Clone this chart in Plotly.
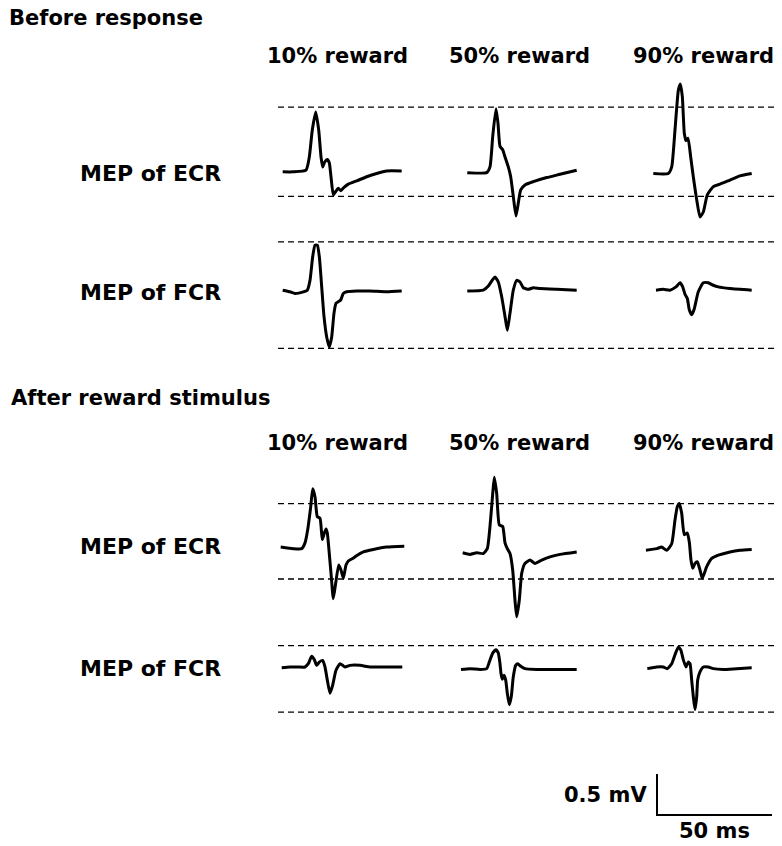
import plotly.graph_objects as go

# ---------------- data (ms, mV) ----------------
reward_labels = ["10% reward", "50% reward", "90% reward"]
row_labels = ["MEP of ECR", "MEP of FCR", "MEP of ECR", "MEP of FCR"]
section_titles = ["Before response", "After reward stimulus"]

# Before response - ECR
before_ecr_10_t = [1.17, 5.78, 11.3, 12.74, 14.04, 15.52, 16.83, 17.83, 18.57, 19.43, 20.57, 21.43, 22.17, 23.17, 24.22, 25.35, 26.39, 27.83, 29.7, 33.35, 37.7, 42.04, 46.39, 52.9]
before_ecr_10_v = [-0.01, -0.01, 0.01, 0.17, 0.50, 0.72, 0.50, 0.17, 0.05, 0.11, 0.14, 0.10, -0.07, -0.29, -0.25, -0.21, -0.24, -0.20, -0.16, -0.12, -0.07, -0.03, 0.00, 0.00]
before_ecr_50_t = [3.17, 11.61, 13.04, 14.22, 15.65, 16.52, 17.39, 18.57, 19.57, 21.0, 22.04, 23.17, 24.35, 25.35, 26.39, 28.26, 31.87, 37.7, 43.48, 50.74]
before_ecr_50_v = [-0.02, -0.02, 0.05, 0.42, 0.76, 0.58, 0.30, 0.26, 0.17, 0.05, -0.07, -0.31, -0.55, -0.39, -0.23, -0.17, -0.13, -0.08, -0.04, 0.01]
before_ecr_90_t = [3.61, 10.13, 11.61, 13.04, 14.48, 15.35, 16.22, 17.09, 17.83, 18.7, 19.87, 21.0, 22.48, 23.91, 25.35, 27.09, 29.7, 32.61, 36.96, 41.3, 46.39]
before_ecr_90_v = [-0.03, -0.03, 0.05, 0.50, 0.98, 1.06, 0.91, 0.46, 0.37, 0.40, 0.17, -0.07, -0.35, -0.56, -0.50, -0.29, -0.19, -0.16, -0.11, -0.06, -0.03]

# Before response - FCR
before_fcr_10_t = [1.17, 4.35, 6.52, 10.13, 11.87, 13.04, 14.22, 15.22, 16.22, 17.09, 18.13, 19.13, 20.3, 21.43, 22.48, 23.48, 24.35, 25.35, 26.39, 27.52, 29.0, 33.35, 39.13, 46.39, 52.91]
before_fcr_10_v = [0.01, -0.01, -0.03, -0.01, 0.01, 0.13, 0.42, 0.56, 0.56, 0.42, 0.05, -0.31, -0.56, -0.68, -0.56, -0.27, -0.15, -0.13, -0.11, -0.03, -0.01, 0.0, 0.0, -0.01, 0.0]
before_fcr_50_t = [3.17, 10.13, 12.3, 14.22, 15.22, 16.65, 18.13, 19.57, 20.57, 21.74, 23.17, 24.65, 26.09, 27.52, 29.7, 31.87, 34.78, 42.04, 50.74]
before_fcr_50_v = [0.0, 0.01, 0.06, 0.14, 0.17, 0.11, -0.07, -0.31, -0.48, -0.27, 0.01, 0.13, 0.11, 0.04, 0.02, 0.04, 0.03, 0.02, 0.01]
before_fcr_90_t = [4.78, 7.96, 10.87, 13.48, 15.22, 16.39, 17.39, 18.39, 19.26, 20.3, 21.3, 23.17, 25.35, 27.52, 29.7, 31.87, 36.96, 46.39]
before_fcr_90_v = [0.01, 0.02, 0.01, 0.05, 0.10, 0.05, -0.04, -0.09, -0.23, -0.29, -0.23, -0.01, 0.10, 0.10, 0.07, 0.05, 0.03, 0.01]

# After reward stimulus - ECR
after_ecr_10_t = [0.3, 5.78, 9.43, 10.87, 12.04, 13.35, 14.22, 15.22, 16.22, 17.39, 18.39, 19.26, 20.0, 20.57, 21.43, 22.3, 23.17, 24.22, 25.52, 26.52, 27.52, 28.7, 29.7, 31.61, 33.61, 36.22, 40.57, 46.39, 54.04]
after_ecr_10_v = [0.0, -0.02, -0.02, 0.05, 0.21, 0.49, 0.71, 0.61, 0.37, 0.35, 0.09, 0.17, 0.22, 0.17, -0.08, -0.36, -0.63, -0.44, -0.22, -0.28, -0.38, -0.22, -0.17, -0.14, -0.10, -0.06, -0.03, 0.0, 0.01]
after_ecr_50_t = [1.17, 4.35, 7.26, 10.13, 11.87, 13.04, 14.22, 14.91, 15.96, 17.09, 18.57, 19.57, 20.57, 21.74, 22.91, 23.91, 24.65, 25.78, 26.83, 28.26, 30.43, 32.61, 35.52, 39.13, 43.48, 50.74]
after_ecr_50_v = [-0.07, -0.09, -0.07, -0.08, -0.02, 0.25, 0.65, 0.85, 0.65, 0.27, 0.25, 0.05, -0.02, -0.08, -0.28, -0.65, -0.85, -0.65, -0.32, -0.20, -0.16, -0.20, -0.16, -0.12, -0.09, -0.06]
after_ecr_90_t = [0.43, 5.09, 7.26, 9.43, 11.61, 13.04, 14.04, 14.91, 15.96, 17.09, 18.39, 19.26, 20.0, 20.74, 21.74, 22.74, 23.91, 24.91, 26.83, 29.0, 31.87, 36.96, 41.3, 46.39]
after_ecr_90_v = [-0.04, -0.02, 0.0, -0.04, 0.04, 0.33, 0.49, 0.53, 0.41, 0.15, 0.17, 0.06, -0.16, -0.26, -0.20, -0.18, -0.28, -0.38, -0.24, -0.14, -0.10, -0.06, -0.04, -0.03]

# After reward stimulus - FCR
after_fcr_10_t = [0.74, 4.35, 7.96, 10.87, 12.3, 13.78, 14.91, 15.96, 17.09, 18.57, 19.57, 20.57, 21.74, 22.91, 24.35, 26.09, 27.26, 28.26, 30.43, 34.78, 39.13, 43.48, 47.83, 53.17]
after_fcr_10_v = [-0.01, 0.0, 0.0, 0.0, 0.04, 0.13, 0.09, 0.02, 0.06, 0.08, 0.0, -0.16, -0.32, -0.22, -0.04, 0.04, 0.02, 0.0, 0.02, 0.02, 0.0, 0.0, 0.0, 0.0]
after_fcr_50_t = [0.43, 4.35, 8.7, 11.61, 12.74, 14.22, 15.65, 16.65, 17.39, 17.83, 18.39, 19.13, 19.87, 20.57, 21.43, 22.3, 23.17, 24.22, 25.09, 26.39, 28.26, 33.35, 40.57, 50.74]
after_fcr_50_v = [-0.03, -0.02, -0.03, -0.02, 0.06, 0.17, 0.21, 0.17, 0.04, -0.08, -0.15, -0.10, -0.16, -0.32, -0.46, -0.36, -0.12, 0.02, 0.04, 0.01, -0.02, -0.03, -0.03, -0.03]
after_fcr_90_t = [1.0, 5.09, 7.96, 9.7, 11.61, 13.04, 14.48, 15.52, 16.65, 17.83, 18.83, 19.57, 20.3, 21.0, 21.74, 22.48, 22.91, 23.91, 25.35, 27.52, 29.7, 34.04, 39.87, 46.39]
after_fcr_90_v = [-0.02, 0.0, 0.0, -0.02, 0.04, 0.15, 0.24, 0.21, 0.09, 0.0, 0.06, 0.04, -0.16, -0.36, -0.52, -0.36, -0.16, -0.06, 0.0, 0.0, -0.02, -0.03, -0.02, -0.01]

# dashed reference levels per row (mV): [upper, lower]
ref_levels = [[0.78, -0.31], [0.60, -0.70], [0.53, -0.39], [0.26, -0.55]]

# scale bar
scale_mv = 0.5
scale_ms = 50

rows_t = [
    [before_ecr_10_t, before_ecr_50_t, before_ecr_90_t],
    [before_fcr_10_t, before_fcr_50_t, before_fcr_90_t],
    [after_ecr_10_t, after_ecr_50_t, after_ecr_90_t],
    [after_fcr_10_t, after_fcr_50_t, after_fcr_90_t],
]
rows_v = [
    [before_ecr_10_v, before_ecr_50_v, before_ecr_90_v],
    [before_fcr_10_v, before_fcr_50_v, before_fcr_90_v],
    [after_ecr_10_v, after_ecr_50_v, after_ecr_90_v],
    [after_fcr_10_v, after_fcr_50_v, after_fcr_90_v],
]

# ---------------- layout geometry (pixels) ----------------
W, H = 782, 846
PX_PER_MS = 2.3
PX_PER_MV = 82.0

def fx(px):
    return px / W

def fy(py):
    return 1 - py / H

col_x0 = [280, 460, 645]
col_w = 135
row_ref = [171, 291, 547, 667]
row_vr = [(-0.7, 1.2), (-0.75, 0.72), (-1.0, 1.1), (-0.7, 0.4)]

fig = go.Figure()
layout_axes = {}

for c, x0 in enumerate(col_x0):
    name = "xaxis" if c == 0 else f"xaxis{c + 1}"
    layout_axes[name] = dict(domain=[fx(x0), fx(x0 + col_w)], range=[0, col_w / PX_PER_MS],
                             visible=False, fixedrange=True, anchor="free", position=0)

for r, ref in enumerate(row_ref):
    vmin, vmax = row_vr[r]
    name = "yaxis" if r == 0 else f"yaxis{r + 1}"
    layout_axes[name] = dict(domain=[fy(ref - vmin * PX_PER_MV), fy(ref - vmax * PX_PER_MV)],
                             range=[vmin, vmax], visible=False, fixedrange=True,
                             anchor="free", position=0)

# scale-bar axes: corner at (657, 815)
sb_x0, sb_y0 = 657, 815
sb_dom_x = (640, 782)
sb_dom_y = (745, 835)
layout_axes["xaxis4"] = dict(domain=[fx(sb_dom_x[0]), fx(sb_dom_x[1])],
                             range=[(sb_dom_x[0] - sb_x0) / PX_PER_MS, (sb_dom_x[1] - sb_x0) / PX_PER_MS],
                             visible=False, fixedrange=True, anchor="free", position=0)
layout_axes["yaxis5"] = dict(domain=[fy(sb_dom_y[1]), fy(sb_dom_y[0])],
                             range=[(sb_y0 - sb_dom_y[1]) / PX_PER_MV, (sb_y0 - sb_dom_y[0]) / PX_PER_MV],
                             visible=False, fixedrange=True, anchor="free", position=0)

# waveforms
for r in range(4):
    for c in range(3):
        fig.add_trace(go.Scatter(
            x=rows_t[r][c], y=rows_v[r][c], mode="lines",
            line=dict(color="black", width=3, shape="spline", smoothing=0.5),
            xaxis="x" if c == 0 else f"x{c + 1}",
            yaxis="y" if r == 0 else f"y{r + 1}",
            showlegend=False, hoverinfo="skip"))

# scale bar
fig.add_trace(go.Scatter(x=[0, 0, scale_ms], y=[scale_mv, 0, 0], mode="lines",
                         line=dict(color="black", width=2), xaxis="x4", yaxis="y5",
                         showlegend=False, hoverinfo="skip"))

# dashed reference lines
shapes = []
for r in range(4):
    yref = "y" if r == 0 else f"y{r + 1}"
    for lvl in ref_levels[r]:
        shapes.append(dict(type="line", xref="paper", yref=yref, x0=fx(278), x1=fx(776),
                           y0=lvl, y1=lvl, line=dict(color="black", width=1.3, dash="6px,4px")))

ann = []

def add_text(text, x, y, xanchor="center", size=21):
    ann.append(dict(text=f"<b>{text}</b>", x=fx(x), y=fy(y), xref="paper", yref="paper",
                    xanchor=xanchor, yanchor="middle", showarrow=False,
                    font=dict(family="DejaVu Sans", size=size, color="black")))

add_text(section_titles[0], 7, 18, "left")
add_text(section_titles[1], 9, 398, "left")
reward_cx = [337, 519, 703]
for cx, lab in zip(reward_cx, reward_labels):
    add_text(lab, cx, 56)
    add_text(lab, cx, 443)
row_label_y = [173, 292, 546, 668]
for ly, lab in zip(row_label_y, row_labels):
    add_text(lab, 150, ly, size=22)
add_text(f"{scale_mv} mV", 649, 795, "right")
add_text(f"{scale_ms} ms", 714, 831)

fig.update_layout(width=W, height=H, margin=dict(l=0, r=0, t=0, b=0),
                  paper_bgcolor="white", plot_bgcolor="white",
                  shapes=shapes, annotations=ann, **layout_axes)

fig.write_html("out.html", config={"displayModeBar": False, "staticPlot": True},
               post_script="document.body.style.margin='0';document.body.style.overflow='hidden';")
